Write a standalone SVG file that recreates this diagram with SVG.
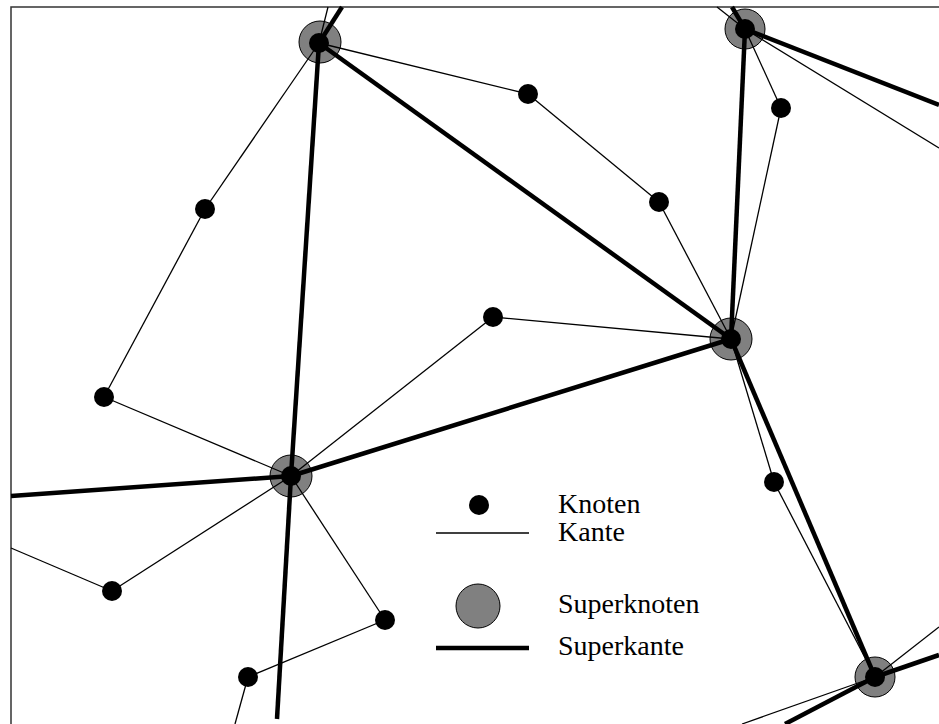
<svg xmlns="http://www.w3.org/2000/svg" width="939" height="724" viewBox="0 0 939 724">
<style>
.thin{stroke:#000;stroke-width:1.3;fill:none}
.thick{stroke:#000;stroke-width:4.5;fill:none}
.sup{fill:#808080;stroke:#000;stroke-width:1}
.dot{fill:#000}
.lbl{font-family:"Liberation Serif","Times New Roman",serif;font-size:28px;fill:#000}
.frame{stroke:#333;stroke-width:1.5;fill:none}
</style>
<rect width="939" height="724" fill="#fff"/>
<path class="frame" d="M11,724 V7 H939"/>
<g id="superknoten">
<g id="SA"><circle class="sup" cx="320" cy="42" r="21"/><circle class="dot" cx="319" cy="43" r="10"/></g>
<g id="SB"><circle class="sup" cx="745" cy="29" r="20"/><circle class="dot" cx="745" cy="29" r="10"/></g>
<g id="SC"><circle class="sup" cx="731" cy="339" r="21"/><circle class="dot" cx="731" cy="339" r="10"/></g>
<g id="SD"><circle class="sup" cx="291" cy="476" r="21"/><circle class="dot" cx="291" cy="476" r="10"/></g>
<g id="SE"><circle class="sup" cx="875" cy="677" r="20"/><circle class="dot" cx="875" cy="677" r="10"/></g>
</g>
<g id="connectors">
<g id="kanten">
<line class="thin" x1="319" y1="43" x2="328" y2="7"/>
<line class="thin" x1="319" y1="43" x2="528" y2="94"/>
<line class="thin" x1="528" y1="94" x2="659" y2="202"/>
<line class="thin" x1="659" y1="202" x2="731" y2="339"/>
<line class="thin" x1="319" y1="43" x2="205" y2="209"/>
<line class="thin" x1="205" y1="209" x2="104" y2="397"/>
<line class="thin" x1="104" y1="397" x2="291" y2="476"/>
<line class="thin" x1="291" y1="476" x2="493" y2="317"/>
<line class="thin" x1="493" y1="317" x2="731" y2="339"/>
<line class="thin" x1="731" y1="339" x2="774" y2="482"/>
<line class="thin" x1="774" y1="482" x2="875" y2="677"/>
<line class="thin" x1="291" y1="476" x2="112" y2="591"/>
<line class="thin" x1="112" y1="591" x2="11" y2="548"/>
<line class="thin" x1="291" y1="476" x2="385" y2="620"/>
<line class="thin" x1="385" y1="620" x2="248" y2="677"/>
<line class="thin" x1="248" y1="677" x2="235" y2="724"/>
<line class="thin" x1="745" y1="29" x2="781" y2="108"/>
<line class="thin" x1="781" y1="108" x2="731" y2="339"/>
<line class="thin" x1="745" y1="29" x2="717" y2="7"/>
<line class="thin" x1="745" y1="29" x2="939" y2="148"/>
<line class="thin" x1="875" y1="677" x2="939" y2="627"/>
<line class="thin" x1="875" y1="677" x2="742" y2="724"/>
</g>
<g id="superkanten">
<line class="thick" x1="319" y1="43" x2="342" y2="7"/>
<line class="thick" x1="319" y1="43" x2="731" y2="339"/>
<line class="thick" x1="319" y1="43" x2="291" y2="476"/>
<line class="thick" x1="291" y1="476" x2="277" y2="719"/>
<line class="thick" x1="291" y1="476" x2="11" y2="496"/>
<line class="thick" x1="291" y1="476" x2="731" y2="339"/>
<line class="thick" x1="745" y1="29" x2="731" y2="339"/>
<line class="thick" x1="745" y1="29" x2="732" y2="7"/>
<line class="thick" x1="745" y1="29" x2="939" y2="105"/>
<line class="thick" x1="731" y1="339" x2="875" y2="677"/>
<line class="thick" x1="875" y1="677" x2="939" y2="655"/>
<line class="thick" x1="875" y1="677" x2="785" y2="724"/>
</g>
</g>
<g id="knoten">
<g id="n1"><circle class="dot" cx="528" cy="94" r="10"/></g>
<g id="n2"><circle class="dot" cx="659" cy="202" r="10"/></g>
<g id="n3"><circle class="dot" cx="781" cy="108" r="10"/></g>
<g id="n4"><circle class="dot" cx="205" cy="209" r="10"/></g>
<g id="n5"><circle class="dot" cx="493" cy="317" r="10"/></g>
<g id="n6"><circle class="dot" cx="104" cy="397" r="10"/></g>
<g id="n7"><circle class="dot" cx="774" cy="482" r="10"/></g>
<g id="n8"><circle class="dot" cx="112" cy="591" r="10"/></g>
<g id="n9"><circle class="dot" cx="385" cy="620" r="10"/></g>
<g id="n10"><circle class="dot" cx="248" cy="677" r="10"/></g>
</g>
<g id="legende">
<g id="leg-knoten"><circle class="dot" cx="479" cy="505" r="10"/><text class="lbl" x="558" y="513">Knoten</text></g>
<g id="leg-kante"><line class="thin" x1="436" y1="533" x2="529" y2="533"/><text class="lbl" x="558" y="541">Kante</text></g>
<g id="leg-superknoten"><circle class="sup" cx="478" cy="606" r="22"/><text class="lbl" x="558" y="613">Superknoten</text></g>
<g id="leg-superkante"><line class="thick" x1="436" y1="648" x2="529" y2="648"/><text class="lbl" x="558" y="655">Superkante</text></g>
</g>
</svg>
